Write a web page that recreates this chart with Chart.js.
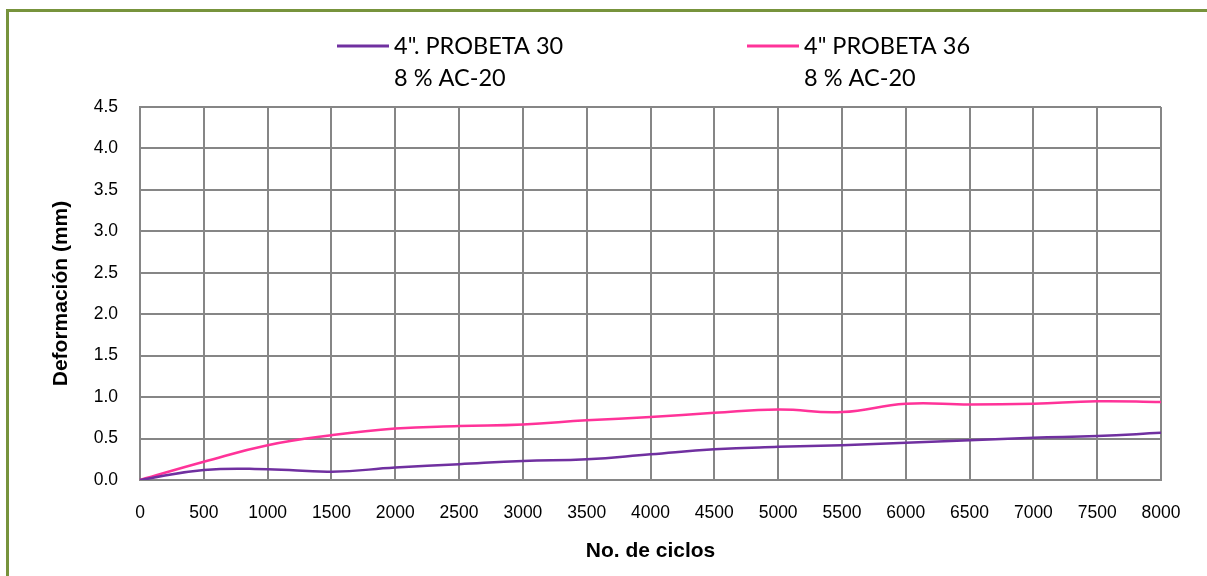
<!DOCTYPE html>
<html>
<head>
<meta charset="utf-8">
<script src="https://cdn.jsdelivr.net/npm/chart.js@4.4.1/dist/chart.umd.min.js"></script>
<style>
  html, body { margin: 0; padding: 0; background: #fff; overflow: hidden; width: 1207px; height: 576px; }
  #wrap { position: relative; width: 1207px; height: 576px; }
  #marco { position: absolute; left: 6px; top: 9px; width: 1400px; height: 800px;
           border: 3px solid #77933C; pointer-events: none; }
  canvas { display: block; }
</style>
</head>
<body>
<div id="wrap">
  <canvas id="grafica" width="1207" height="576"></canvas>
  <div id="marco"></div>
</div>
<script>
// Número de ciclos (eje X)
const ciclos = ['0', '500', '1000', '1500', '2000', '2500', '3000', '3500', '4000',
                '4500', '5000', '5500', '6000', '6500', '7000', '7500', '8000'];

// Deformación (mm) de cada probeta
const probeta30 = [0, 0.12, 0.13, 0.10, 0.15, 0.19, 0.23, 0.25, 0.31,
                   0.37, 0.40, 0.42, 0.45, 0.48, 0.51, 0.53, 0.57];
const probeta36 = [0, 0.22, 0.42, 0.54, 0.62, 0.65, 0.67, 0.72, 0.76,
                   0.81, 0.85, 0.82, 0.92, 0.91, 0.92, 0.95, 0.94];

// Textos de la leyenda (dos renglones por serie)
const nombre30 = ['4". PROBETA 30', '8 % AC-20'];
const nombre36 = ['4" PROBETA 36', '8 % AC-20'];

// Escala vertical
const yMin = 0, yMax = 4.5, yPaso = 0.5;

const colorGrid = '#868686';

// Leyenda de dos renglones dibujada sobre el lienzo de la gráfica
const leyenda = {
  id: 'leyenda',
  afterDraw(chart) {
    const ctx = chart.ctx;
    const area = chart.chartArea;
    const centro = (area.left + area.right) / 2;
    const desplaz = [-313.5, 96.5];   // inicio de cada elemento respecto al centro
    const largo = 52, sep = 5, y0 = 46, interlinea = 32;
    ctx.save();
    ctx.font = '23.5px Lato, "Open Sans", sans-serif';
    ctx.textBaseline = 'middle';
    ctx.textAlign = 'left';
    chart.data.datasets.forEach((ds, i) => {
      const x = centro + desplaz[i];
      ctx.strokeStyle = ds.borderColor;
      ctx.lineWidth = 3;
      ctx.beginPath();
      ctx.moveTo(x, y0);
      ctx.lineTo(x + largo, y0);
      ctx.stroke();
      ctx.fillStyle = '#000';
      ds.label.forEach((t, k) => ctx.fillText(t, x + largo + sep, y0 + k * interlinea));
    });
    ctx.restore();
  }
};

Chart.defaults.font.family = '"Liberation Sans", Arial, sans-serif';
Chart.defaults.color = '#000';

new Chart(document.getElementById('grafica'), {
  type: 'line',
  data: {
    labels: ciclos,
    datasets: [
      {
        label: nombre30,
        data: probeta30,
        borderColor: '#7030A0',
        backgroundColor: '#7030A0',
        borderWidth: 2.5,
        pointRadius: 0,
        tension: 0.45,
        fill: false
      },
      {
        label: nombre36,
        data: probeta36,
        borderColor: '#FF3399',
        backgroundColor: '#FF3399',
        borderWidth: 2.5,
        pointRadius: 0,
        tension: 0.45,
        fill: false
      }
    ]
  },
  options: {
    responsive: false,
    animation: false,
    layout: { padding: { left: 45, right: 46, top: 107, bottom: 8 } },
    plugins: {
      legend: { display: false },
      tooltip: { enabled: false }
    },
    scales: {
      x: {
        offset: false,
        grid: { color: colorGrid, lineWidth: 2, drawTicks: false },
        border: { color: colorGrid, width: 2 },
        ticks: { font: { size: 17.5 }, padding: 23, maxRotation: 0, autoSkip: false },
        title: {
          display: true,
          text: 'No. de ciclos',
          font: { size: 21, weight: 'bold' },
          padding: { top: 4, bottom: 4 }
        },
        afterFit(s) { s.height = 88; }
      },
      y: {
        min: yMin,
        max: yMax,
        grid: { color: colorGrid, lineWidth: 2, drawTicks: false },
        border: { color: colorGrid, width: 2 },
        ticks: {
          stepSize: yPaso,
          font: { size: 17.5 },
          padding: 22,
          callback: v => Number(v).toFixed(1)
        },
        title: {
          display: true,
          text: 'Deformación (mm)',
          font: { size: 21, weight: 'bold' },
          padding: { top: 4, bottom: 4 }
        },
        afterFit(s) { s.width = 95; }
      }
    }
  },
  plugins: [leyenda]
});
</script>
</body>
</html>
